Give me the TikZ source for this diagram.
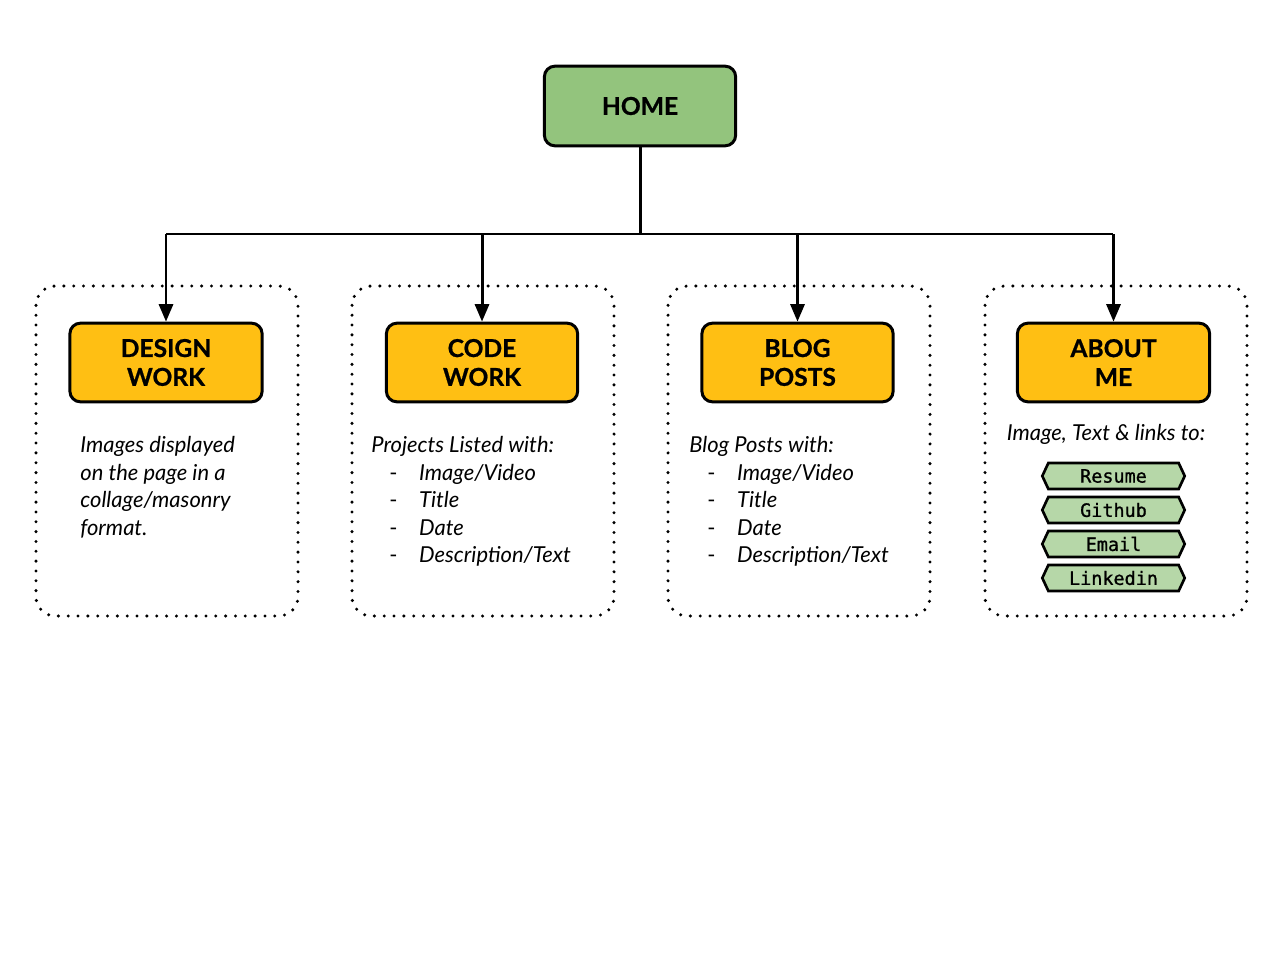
\documentclass[tikz,border=0pt]{standalone}
\usepackage{fontspec}
\setmainfont{Lato}
\newfontfamily\headfont[BoldFeatures={FakeBold=0.8}]{Lato}
\newfontfamily\tagfont[FakeBold=1]{DejaVu Sans Mono}
\usetikzlibrary{arrows.meta,shapes.symbols}
\definecolor{homegreen}{HTML}{93C47D}
\definecolor{pagegold}{HTML}{FFBF13}
\definecolor{taggreen}{HTML}{B6D7A8}
\begin{document}
\begin{tikzpicture}[x=0.02cm,y=-0.02cm,
  pagebox/.style={draw=black,line width=1.7pt,rounded corners=6pt,
    inner sep=0pt,align=center,
    font=\headfont\fontsize{14}{16.4}\selectfont\bfseries},
  groupbox/.style={draw=black,line width=1.9pt,line cap=round,
    dash pattern=on 0pt off 5.6pt,rounded corners=11pt},
  linktag/.style={draw=black,fill=taggreen,line width=1.5pt,
    font=\tagfont\fontsize{10.5}{12}\selectfont},
  textblock/.style={anchor=north west,inner sep=0pt,align=left,
    font=\fontsize{12.5}{15.7}\selectfont\itshape},
  wire/.style={line width=1.7pt},
  feed/.style={wire,-{Triangle[length=10pt,width=8pt]}}]
\useasboundingbox (0,0) rectangle (1280,960);

% dotted section frames
\draw[groupbox] (36,286) rectangle (298,616);
\draw[groupbox] (352,286) rectangle (614,616);
\draw[groupbox] (668,286) rectangle (930,616);
\draw[groupbox] (985,286) rectangle (1247,616);

% page boxes
\node[pagebox,fill=homegreen,minimum width=192*0.5669pt,minimum height=80*0.5669pt] (home) at (640,106) {HOME};
\node[pagebox,fill=pagegold,minimum width=193*0.5669pt,minimum height=79*0.5669pt] (design) at (166,362.5) {DESIGN\\WORK};
\node[pagebox,fill=pagegold,minimum width=192*0.5669pt,minimum height=79*0.5669pt] (code) at (482,362.5) {CODE\\WORK};
\node[pagebox,fill=pagegold,minimum width=192*0.5669pt,minimum height=79*0.5669pt] (blog) at (797.5,362.5) {BLOG\\POSTS};
\node[pagebox,fill=pagegold,minimum width=193*0.5669pt,minimum height=79*0.5669pt] (about) at (1113.5,362.5) {ABOUT\\ME};

% tree connectors
\coordinate (bus) at (640,234);
\coordinate (busL) at (166,234);
\coordinate (busR) at (1113,234);
\draw[wire] (home.south) -- (bus);
\draw[wire] (busL) -- (busR);
\draw[feed] (busL) -- (design.north);
\draw[feed] (code.north |- bus) -- (code.north);
\draw[feed] (blog.north |- bus) -- (blog.north);
\draw[feed] (about.north |- bus) -- (about.north);

% section texts
\newcommand{\listitem}[1]{\makebox[27.2pt][l]{\hspace{10.2pt}\upshape-}#1}
\node[textblock] (designtxt) at (80,436) {Images displayed\\on the page in a\\collage/masonry\\format.};
\node[textblock] (codetxt) at (371,436) {Projects Listed with:\\\listitem{Image/Video}\\\listitem{Title}\\\listitem{Date}\\\listitem{Description/Text}};
\node[textblock] (blogtxt) at (689,436) {Blog Posts with:\\\listitem{Image/Video}\\\listitem{Title}\\\listitem{Date}\\\listitem{Description/Text}};
\node[textblock,anchor=north] (abouttxt) at (1106,424) {Image, Text \& links to:};

% link tags
\tikzset{tagshape/.style={linktag,signal,signal to=west and east,signal pointer angle=130,
  minimum width=143*0.5669pt,minimum height=26*0.5669pt,inner sep=0pt}}
\node[tagshape] (resume) at (1113.5,476) {Resume};
\node[tagshape] (github) at (1113.5,510) {Github};
\node[tagshape] (email) at (1113.5,544) {Email};
\node[tagshape] (linkedin) at (1113.5,578) {Linkedin};
\end{tikzpicture}
\end{document}
